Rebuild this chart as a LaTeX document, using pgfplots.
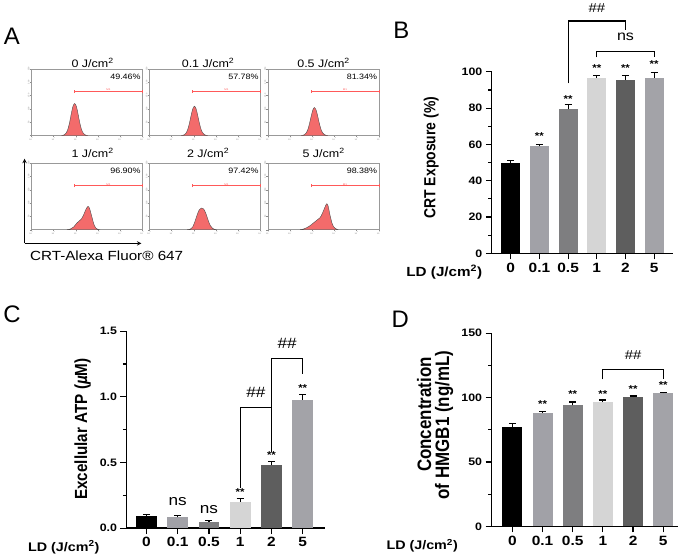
\documentclass[border=0pt]{standalone}
\usepackage{pgfplots}
\pgfplotsset{compat=1.18}
\usepackage{fontspec}
\setmainfont{Liberation Sans}[FakeStretch=1.15]
\newfontfamily\rotfont{Liberation Sans}
\definecolor{cA}{HTML}{000000}
\definecolor{cB}{HTML}{A1A1A7}
\definecolor{cC}{HTML}{7E7E80}
\definecolor{cD}{HTML}{D5D5D5}
\definecolor{cE}{HTML}{5E5E5E}
\definecolor{cF}{HTML}{A3A3A8}
\definecolor{salmon}{HTML}{F36B6B}
\newcommand\fs[1]{\fontsize{#1}{#1}\selectfont}
\newcommand\thick[1]{\scalebox{1}[1.15]{#1}}
\newcommand\tp[1]{10\textsuperscript{#1}}
\pgfplotsset{
  hist/.style={scale only axis, width=111.5pt, height=67pt, anchor=south west,
    xmin=0, xmax=5, ymin=0, ymax=1, clip=false,
    axis line style={black!40, line width=0.5pt},
    xtick={0,...,5}, ytick={0,0.2,0.4,0.6,0.8,1},
    xticklabels={\tp{0},\tp{1},\tp{2},\tp{3},\tp{4},\tp{5}},
    yticklabels={,50,100,150,200,250},
    tick style={black!45, line width=0.3pt},
    major tick length=1.5pt, tick align=outside, tick pos=left,
    ticklabel style={font=\fs{2}, text=black!50, inner sep=0.3pt},
    yticklabel style={rotate=90},
  },
  bars/.style={scale only axis, anchor=south west, ymin=0, clip=false,
    axis x line*=bottom, axis y line*=left,
    axis line style={line width=1.3pt},
    tick style={line width=1.2pt, black},
    tick align=outside, major tick length=6pt, minor tick length=3.5pt,
    xtick={0,...,5}, xticklabels={0,0.1,0.5,1,2,5},
    /pgf/number format/assume math mode=true,
    xticklabel style={font=\bfseries\fs{13.5}},
    yticklabel style={font=\bfseries\fs{10.8}},
    minor y tick num=1,
    ybar,
  },
}
\newcommand\bb[4]{\addplot[ybar, bar shift=0pt, fill=#1, draw=none,
  error bars/.cd, y dir=plus, y explicit,
  error bar style={line width=1.1pt, black},
  error mark options={rotate=90, mark size=3.5pt, line width=1.1pt, black}]
  coordinates {(#2,#3) +- (0,#4)};}
\newcommand\st[2]{\node[font=\bfseries\fs{10}] at (axis cs:#1,#2) {**};}
\newcommand\gate{%
  \draw[red!65, line width=0.45pt] (axis cs:1.95,0.66) -- (axis cs:5,0.66);
  \draw[red!65, line width=0.45pt] (axis cs:1.95,0.64) -- (axis cs:1.95,0.68);
  \draw[red!65, line width=0.45pt] (axis cs:5,0.64) -- (axis cs:5,0.68);
  \node[red!65, font=\fs{2.5}, inner sep=0, above] at (axis cs:3.47,0.665) {M1};}
\begin{document}
\begin{tikzpicture}
\path (0pt,0pt) rectangle (685pt,-558pt);
% ---------- Panel A ----------
\node[font=\rotfont\fs{24}] at (9pt,-36pt) {A};
\foreach \t/\x/\y in {0/90/62.7, 0.1/206/62.7, 0.5/322/62.7, 1/90/153.3, 2/206/153.3, 5/322/153.3}
  \node[font=\fs{10.9}] at (\x pt,-\y pt) {\t\ J/cm\textsuperscript{2}};
\begin{axis}[hist, at={(28.5pt,-135.7pt)}]
\addplot[fill=salmon, draw=black!70, line width=0.4pt, smooth] coordinates {(1.35,0) (1.425,0.004) (1.5,0.014) (1.575,0.042) (1.65,0.10) (1.725,0.20) (1.8,0.33) (1.875,0.44) (1.95,0.48) (2.025,0.44) (2.1,0.33) (2.175,0.20) (2.25,0.10) (2.325,0.042) (2.4,0.014) (2.475,0.004) (2.55,0)} \closedcycle;
\gate
\node[font=\fs{7.8}, anchor=east, inner sep=0] at (axis cs:4.93,0.88) {49.46\%};
\end{axis}
\begin{axis}[hist, at={(147pt,-135.7pt)}]
\addplot[fill=salmon, draw=black!70, line width=0.4pt, smooth] coordinates {(1.43,0) (1.505,0.004) (1.58,0.013) (1.655,0.039) (1.73,0.092) (1.805,0.185) (1.88,0.30) (1.955,0.40) (2.03,0.44) (2.105,0.40) (2.18,0.30) (2.255,0.185) (2.33,0.092) (2.405,0.039) (2.48,0.013) (2.555,0.004) (2.63,0)} \closedcycle;
\gate
\node[font=\fs{7.8}, anchor=east, inner sep=0] at (axis cs:4.93,0.88) {57.78\%};
\end{axis}
\begin{axis}[hist, at={(266pt,-135.7pt)}]
\addplot[fill=salmon, draw=black!70, line width=0.4pt, smooth] coordinates {(1.5,0) (1.575,0.004) (1.65,0.013) (1.725,0.037) (1.8,0.088) (1.875,0.176) (1.95,0.286) (2.025,0.382) (2.1,0.42) (2.175,0.382) (2.25,0.286) (2.325,0.176) (2.4,0.088) (2.475,0.037) (2.55,0.013) (2.625,0.004) (2.7,0)} \closedcycle;
\gate
\node[font=\fs{7.8}, anchor=east, inner sep=0] at (axis cs:4.93,0.88) {81.34\%};
\end{axis}
\begin{axis}[hist, at={(28.5pt,-230.3pt)}]
\addplot[fill=salmon, draw=black!70, line width=0.4pt, smooth] coordinates {(1.6,0) (1.75,0.01) (1.9,0.04) (2.05,0.1) (2.15,0.13) (2.25,0.16) (2.35,0.22) (2.45,0.3) (2.55,0.35) (2.62,0.32) (2.72,0.2) (2.82,0.08) (2.92,0.02) (3.05,0)} \closedcycle;
\gate
\node[font=\fs{7.8}, anchor=east, inner sep=0] at (axis cs:4.93,0.88) {96.90\%};
\end{axis}
\begin{axis}[hist, at={(147pt,-230.3pt)}]
\addplot[fill=salmon, draw=black!70, line width=0.4pt, smooth] coordinates {(1.7,0) (1.85,0.01) (1.95,0.04) (2.05,0.12) (2.15,0.22) (2.25,0.3) (2.35,0.325) (2.45,0.31) (2.55,0.24) (2.65,0.14) (2.75,0.06) (2.85,0.02) (3.0,0)} \closedcycle;
\gate
\node[font=\fs{7.8}, anchor=east, inner sep=0] at (axis cs:4.93,0.88) {97.42\%};
\end{axis}
\begin{axis}[hist, at={(266pt,-230.3pt)}]
\addplot[fill=salmon, draw=black!70, line width=0.4pt, smooth] coordinates {(1.45,0) (1.6,0.01) (1.75,0.03) (1.9,0.06) (2.05,0.1) (2.2,0.14) (2.35,0.18) (2.45,0.24) (2.55,0.32) (2.65,0.39) (2.72,0.35) (2.8,0.22) (2.9,0.09) (3.0,0.03) (3.15,0)} \closedcycle;
\gate
\node[font=\fs{7.8}, anchor=east, inner sep=0] at (axis cs:4.93,0.88) {98.38\%};
\end{axis}
\draw[line width=1pt, ->, >=stealth] (21.7pt,-244pt) -- (21.7pt,-159pt);
\draw[line width=1pt, ->, >=stealth] (21.7pt,-244pt) -- (139pt,-244pt);
\node[font=\fs{13.3}, anchor=base west, inner sep=0] at (27pt,-261.7pt) {CRT-Alexa Fluor® 647};
% ---------- Panel B ----------
\node[font=\rotfont\fs{24}] at (400pt,-30pt) {B};
\begin{axis}[bars, at={(491pt,-254pt)}, width=182pt, height=182.3pt,
  xmin=-0.66, xmax=5.66, ymax=100, ytick={0,20,...,100}, bar width=19.3pt]
\bb{cA}{0}{50.0}{1.3}
\bb{cB}{1}{58.9}{1.1}
\bb{cC}{2}{79.3}{2.8}
\bb{cD}{3}{96.7}{1.5}
\bb{cE}{4}{95.4}{2.6}
\bb{cF}{5}{96.7}{3.1}
\st{1}{64.4}\st{2}{84.8}\st{3}{101.8}\st{4}{101.8}\st{5}{104}
\draw[line width=1.1pt] (axis cs:2,93.6) -- (axis cs:2,128) -- (axis cs:4,128) -- (axis cs:4,123.2);
\draw[line width=1.1pt] (axis cs:3,107.9) -- (axis cs:3,111) -- (axis cs:5,111) -- (axis cs:5,107.9);
\node[font=\fs{13}] at (axis cs:3,135.3) {\#\#};
\node[font=\fs{14}] at (axis cs:4,119.2) {ns};
\end{axis}
\node[rotate=90, font=\rotfont\bfseries\fs{14}] at (430pt,-158pt) {\thick{CRT Exposure (\%)}};
\node[font=\bfseries\fs{13.3}, anchor=base west, inner sep=0] at (405pt,-277.5pt) {LD (J/cm\textsuperscript{2})};
% ---------- Panel C ----------
\node[font=\rotfont\fs{24}] at (9pt,-315pt) {C};
\begin{axis}[bars, at={(124pt,-530pt)}, width=199pt, height=197.7pt,
  xmin=-0.64, xmax=5.7, ymax=1.5, ytick={0,0.5,1,1.5}, yticklabels={0.0,0.5,1.0,1.5}, bar width=20.7pt]
\bb{cA}{0}{0.094}{0.007}
\bb{cB}{1}{0.081}{0.015}
\bb{cC}{2}{0.046}{0.012}
\bb{cD}{3}{0.200}{0.023}
\bb{cE}{4}{0.478}{0.028}
\bb{cF}{5}{0.979}{0.038}
\st{3}{0.278}\st{4}{0.557}\st{5}{1.067}
\node[font=\fs{15}] at (axis cs:1,0.2) {ns};
\node[font=\fs{15}] at (axis cs:2,0.144) {ns};
\draw[line width=1.1pt] (axis cs:3,0.304) -- (axis cs:3,0.918) -- (axis cs:4,0.918) -- (axis cs:4,0.582);
\draw[line width=1.1pt] (axis cs:4,0.918) -- (axis cs:4,1.295) -- (axis cs:5,1.295) -- (axis cs:5,1.176);
\node[font=\fs{15}] at (axis cs:3.5,1.032) {\#\#};
\node[font=\fs{15}] at (axis cs:4.5,1.41) {\#\#};
\end{axis}
\node[rotate=90, font=\rotfont\bfseries\fs{15.3}] at (80pt,-430.5pt) {\thick{Excellular ATP (\textit{µ}M)}};
\node[font=\bfseries\fs{12.5}, anchor=base west, inner sep=0] at (25pt,-553pt) {LD (J/cm\textsuperscript{2})};
% ---------- Panel D ----------
\node[font=\rotfont\fs{24}] at (399pt,-320pt) {D};
\begin{axis}[bars, at={(490.7pt,-528.3pt)}, width=187.3pt, height=194pt,
  xmin=-0.69, xmax=5.49, ymax=150, ytick={0,50,100,150}, bar width=20pt]
\bb{cA}{0}{77.3}{2.6}
\bb{cB}{1}{88.1}{1.1}
\bb{cC}{2}{94.1}{2.5}
\bb{cD}{3}{96.6}{1.6}
\bb{cE}{4}{100.5}{0.8}
\bb{cF}{5}{103.6}{0.6}
\st{1}{95.4}\st{2}{102.6}\st{3}{102.8}\st{4}{107}\st{5}{109.5}
\draw[line width=1.1pt] (axis cs:3,114.2) -- (axis cs:3,121.6) -- (axis cs:5,121.6) -- (axis cs:5,114.2);
\node[font=\fs{13}] at (axis cs:4,133.2) {\#\#};
\end{axis}
\node[rotate=90, font=\rotfont\bfseries\fs{17}] at (423pt,-416pt) {\thick{Concentration}};
\node[rotate=90, font=\rotfont\bfseries\fs{17}] at (443pt,-426.5pt) {\thick{of HMGB1 (ng/mL)}};
\node[font=\bfseries\fs{12.5}, anchor=base west, inner sep=0] at (385pt,-551.7pt) {LD (J/cm\textsuperscript{2})};
\end{tikzpicture}
\end{document}
